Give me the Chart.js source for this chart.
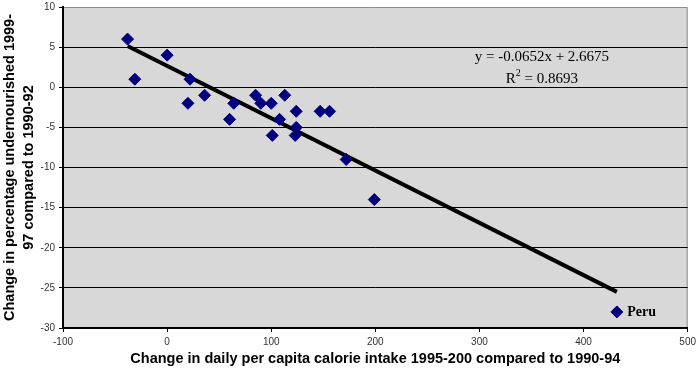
<!DOCTYPE html>
<html>
<head>
<meta charset="utf-8">
<script src="https://cdn.jsdelivr.net/npm/chart.js@4"></script>
<style>
  html, body { margin: 0; padding: 0; background: #fff; }
  #wrap { width: 700px; height: 372px; }
</style>
</head>
<body>
<div id="wrap"><canvas id="chart"></canvas></div>
<script>
// calorie change (x) vs undernourished change (y)
const calorieChange = [-38, -31, 0, 22, 20, 36, 64, 60, 85, 90, 100, 113, 124, 108, 101, 124, 123, 147, 156, 172, 199, 432];
const undernourishedChange = [6, 1, 4, 1, -2, -1, -2, -4, -1, -2, -2, -1, -3, -4, -6, -5, -6, -3, -3, -9, -14, -28];

// linear trendline end points
const trendX = [-38, 432];
const trendY = [5.15, -25.5];

const xTicks = [-100, 0, 100, 200, 300, 400, 500];
const yTicks = [10, 5, 0, -5, -10, -15, -20, -25, -30];

const equationText = 'y = -0.0652x + 2.6675';
const r2Text = '0.8693';
const labelText = 'Peru';

const points = calorieChange.map((x, i) => ({ x: x, y: undernourishedChange[i] }));
const trend = trendX.map((x, i) => ({ x: x, y: trendY[i] }));

const serif = '"Liberation Serif", "Times New Roman", serif';

const plotArea = {
  id: 'plotArea',
  beforeDraw(chart) {
    const { ctx, chartArea: a } = chart;
    ctx.save();
    ctx.fillStyle = '#d8d8d8';
    ctx.fillRect(a.left, a.top, a.width, a.height);
    ctx.strokeStyle = '#8c8c8c';
    ctx.lineWidth = 1;
    ctx.beginPath();
    ctx.moveTo(a.left, a.top + 0.5);
    ctx.lineTo(a.right - 0.5, a.top + 0.5);
    ctx.lineTo(a.right - 0.5, a.bottom);
    ctx.stroke();
    ctx.restore();
  },
  afterDraw(chart) {
    const { ctx, scales } = chart;
    const xs = scales.x, ys = scales.y;
    ctx.save();
    ctx.fillStyle = '#000';
    ctx.font = '15px ' + serif;
    ctx.textAlign = 'center';
    ctx.textBaseline = 'middle';
    const ex = xs.getPixelForValue(360);
    ctx.fillText(equationText, ex, ys.getPixelForValue(3.8));
    // R² line with superscript
    const ry = ys.getPixelForValue(1.06);
    const w1 = ctx.measureText('R').width;
    ctx.font = '10px ' + serif;
    const w2 = ctx.measureText('2').width;
    ctx.font = '15px ' + serif;
    const rest = ' = ' + r2Text;
    const w3 = ctx.measureText(rest).width;
    const sx = ex - (w1 + w2 + w3) / 2;
    ctx.textAlign = 'left';
    ctx.fillText('R', sx, ry);
    ctx.font = '10px ' + serif;
    ctx.fillText('2', sx + w1, ry - 5);
    ctx.font = '15px ' + serif;
    ctx.fillText(rest, sx + w1 + w2, ry);
    // point label
    ctx.font = 'bold 14px ' + serif;
    ctx.fillText(labelText, xs.getPixelForValue(442), ys.getPixelForValue(-28));
    ctx.restore();
  }
};

new Chart(document.getElementById('chart'), {
  type: 'scatter',
  data: {
    datasets: [
      {
        data: points,
        pointStyle: 'rectRot',
        pointRadius: 6,
        pointHoverRadius: 6,
        backgroundColor: '#000080',
        borderColor: '#000080',
        borderWidth: 1,
        order: 1
      },
      {
        type: 'line',
        data: trend,
        borderColor: '#000',
        borderWidth: 4,
        pointRadius: 0,
        fill: false,
        order: 2
      }
    ]
  },
  options: {
    responsive: true,
    maintainAspectRatio: false,
    animation: false,
    layout: { padding: { top: 0, right: 11, left: 0, bottom: 0 } },
    plugins: {
      legend: { display: false },
      tooltip: { enabled: false }
    },
    scales: {
      x: {
        type: 'linear',
        min: -100,
        max: 500,
        afterBuildTicks: (s) => { s.ticks = xTicks.map(v => ({ value: v })); },
        afterFit: (s) => { s.height = 44; },
        ticks: { color: '#333', font: { family: 'Arial, "Liberation Sans"', size: 10 }, padding: 4 },
        grid: { drawOnChartArea: false, color: '#000', tickLength: 4 },
        border: { color: '#000', width: 2 },
        title: {
          display: true,
          text: 'Change in daily per capita calorie intake 1995-200 compared to 1990-94',
          color: '#000',
          font: { family: 'Arial, "Liberation Sans"', size: 14.5, weight: 'bold' },
          padding: { top: 2, bottom: 4 }
        }
      },
      y: {
        type: 'linear',
        min: -30,
        max: 10,
        afterBuildTicks: (s) => { s.ticks = yTicks.map(v => ({ value: v })); },
        afterFit: (s) => { s.width = 63; s.paddingTop = 6; },
        ticks: { color: '#333', font: { family: 'Arial, "Liberation Sans"', size: 10 }, padding: 4 },
        grid: {
          color: (c) => (c.tick && c.tick.value === 10) ? 'rgba(0,0,0,0)' : '#000',
          lineWidth: 1,
          tickLength: 4,
          tickColor: '#000'
        },
        border: { color: '#000', width: 2 },
        title: {
          display: true,
          text: ['Change in percentage undernourished 1999-', '97 compared to 1990-92'],
          color: '#000',
          font: { family: 'Arial, "Liberation Sans"', size: 14.5, weight: 'bold', lineHeight: 1.35 },
          padding: { top: 0, bottom: 0 }
        }
      }
    }
  },
  plugins: [plotArea]
});
</script>
</body>
</html>
